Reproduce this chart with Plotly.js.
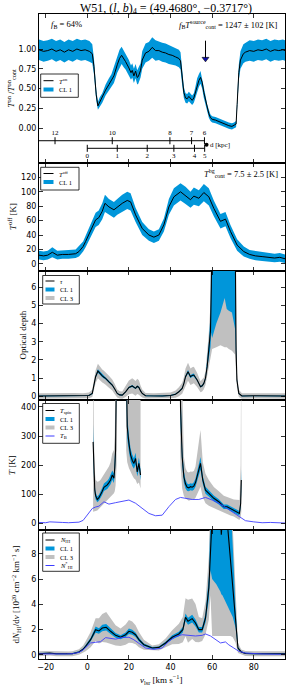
<!DOCTYPE html>
<html><head><meta charset="utf-8">
<script src="https://cdn.plot.ly/plotly-3.0.1.min.js"></script>
<style>html,body{margin:0;padding:0;background:#fff}#chart{width:287px;height:688px}</style>
</head><body><div id="chart"></div>
<script>
// ---------- DATA ----------
// Panel 1: T_on / T_on_cont
const onV = [-23.2,-21,-19,-17,-15,-13,-11,-9,-7,-5,-3,-1,1,2.4,3.2,4.3,5.1,6,7.2,8.8,10.4,11.6,12.8,14.4,15.5,16.5,17.5,18.4,20,21,21.6,22.4,23.2,24,24.5,25.6,26.4,28,29.6,31.2,32.8,34.4,36,37.6,39.2,40.8,42.4,44,44.8,45.6,46.4,47.2,48,48.8,49.6,50.4,51.2,52,52.8,53.6,54.4,55.2,56,56.8,57.6,58.4,59.2,60,61.6,63.2,65,66.4,68,69.5,70.5,71.5,72,72.8,73.6,75,76,78,80,82,84,86,88,90,92,94,95];
const onRatio = [0.99,0.97,0.98,1.00,0.97,0.99,0.96,0.99,0.97,1.00,0.98,0.99,0.97,0.94,0.78,0.42,0.28,0.33,0.38,0.48,0.55,0.6,0.66,0.8,0.88,0.92,0.88,0.84,0.76,0.7,0.73,0.66,0.72,0.64,0.65,0.73,0.86,0.95,0.97,1.02,0.98,0.98,0.96,0.95,0.93,0.92,0.9,0.88,0.85,0.62,0.45,0.38,0.37,0.4,0.37,0.35,0.38,0.46,0.55,0.6,0.64,0.58,0.45,0.35,0.25,0.18,0.13,0.11,0.1,0.08,0.06,0.05,0.03,0.02,0.03,0.05,0.3,0.7,0.86,0.94,0.96,0.98,0.97,0.99,0.98,1.0,0.97,0.99,0.98,0.99,0.98];
const onErr = [0.13,0.13,0.13,0.13,0.13,0.13,0.13,0.13,0.13,0.13,0.13,0.13,0.13,0.12,0.1,0.07,0.05,0.06,0.06,0.07,0.08,0.08,0.09,0.1,0.11,0.11,0.11,0.1,0.1,0.09,0.09,0.09,0.09,0.09,0.09,0.09,0.11,0.12,0.12,0.13,0.13,0.12,0.12,0.12,0.12,0.12,0.11,0.11,0.11,0.08,0.07,0.06,0.06,0.06,0.06,0.06,0.06,0.07,0.08,0.08,0.08,0.08,0.07,0.06,0.05,0.05,0.04,0.04,0.04,0.04,0.04,0.04,0.04,0.04,0.04,0.04,0.06,0.1,0.11,0.12,0.12,0.13,0.13,0.13,0.13,0.13,0.13,0.13,0.13,0.13,0.13];
// kinematic distance scale (kpc) and where it sits in velocity
const distFarKpc = [12,10,8,7,6];
const distFarVel = [-15.5,12,39.7,50.1,56.3];
const distNearKpc = [0,1,2,3,4,5];
const distNearVel = [0,14.4,28.8,41.6,51.5,56.4];
const sourceVel = 56.8;

// Panel 2: T_off
const offV = [-23.2,-21,-19,-16.8,-14.4,-12,-9,-5.6,-4,-2,-0.8,1,2.4,4,5.5,6.4,7.2,8.5,10.4,12.8,14.4,16.8,19.2,20.8,23.2,26.4,29.6,32,34.4,36.8,39.2,41.6,44.8,47.2,49.6,51.2,53.6,56,58.4,60.8,64,66.4,68.8,72,75.2,78,80.8,84,87.1,90,92.5,95];
const tOff = [12,11,12,16,12,13,13,14,17,24,31,42,52,61,64,68,73,84,79,75,79,84,88,86,68,49,40,37,40,54,79,93,100,95,89,94,91,99,93,77,59,62,45,26,17,13,11,10,9,8,9,7];
const tOffErr = [6,6,6,7,6,6,6,6,7,7,8,9,9,10,10,10,11,12,11,11,11,12,12,12,10,9,8,8,8,9,11,12,12,12,11,12,11,12,12,11,10,10,9,8,7,6,6,6,6,6,6,6];

// Panel 3: optical depth
const tauV = [-23.2,-18,-12,-6,-2,0.8,2.4,3.2,4.0,5.1,6,7.2,8,8.8,10.4,12,13.2,14.4,15.6,16.8,18.4,20,21.6,22.4,23.2,24,24.8,25.6,26.4,28,32,36,40,42.4,44,45.6,46.4,47.2,48.4,49.6,50.4,51.2,52.8,54.4,55.2,56,56.8,57.6,58.4,59.2,59.6,60,62,64,66,67,68,69.5,71,71.5,71.9,72.8,74.3,80,88,95];
const tau = [0.02,0.03,0.02,0.03,0.02,0.05,0.16,0.6,1.08,1.39,1.25,1.12,1.05,0.99,0.8,0.62,0.4,0.16,0.08,0.07,0.25,0.49,0.57,0.5,0.44,0.55,0.49,0.3,0.16,0.03,0.02,0.02,0.05,0.12,0.25,0.44,0.7,1.08,1.35,1.08,1.15,1.17,0.9,0.53,0.58,0.71,1.0,1.63,2.6,3.6,6,10,10,10,10,10,10,10,10,2.5,0.9,0.16,0.02,0.03,0.02,0.02];
const tauErr1 = [0.03,0.03,0.03,0.03,0.03,0.03,0.04,0.06,0.07,0.1,0.08,0.07,0.07,0.06,0.06,0.05,0.04,0.03,0.03,0.03,0.03,0.04,0.05,0.05,0.04,0.05,0.05,0.04,0.03,0.03,0.03,0.03,0.03,0.03,0.03,0.04,0.05,0.07,0.1,0.08,0.08,0.08,0.06,0.05,0.05,0.06,0.08,0.15,0.35,0.9,2.5,6.8,6.0,5.4,4.6,5.2,5.3,5.4,6.3,0.5,0.1,0.03,0.03,0.03,0.03,0.03];
const tauErr3 = [0.15,0.15,0.15,0.15,0.15,0.16,0.2,0.3,0.35,0.4,0.38,0.36,0.35,0.35,0.33,0.3,0.28,0.22,0.2,0.2,0.28,0.38,0.42,0.42,0.4,0.42,0.4,0.3,0.22,0.15,0.15,0.15,0.16,0.2,0.25,0.3,0.35,0.45,0.5,0.45,0.45,0.45,0.38,0.3,0.32,0.32,0.38,0.5,0.9,1.5,3.6,7.4,7.3,7.2,7.3,7.3,7.4,7.5,7.7,1.5,0.4,0.2,0.15,0.15,0.15,0.15];

// Panel 4: spin temperature (segments separated by null)
const tsV = [2.8,3.2,3.6,4.0,4.8,5.6,6.4,7.2,8.0,8.8,9.6,10.4,11.2,12.0,12.8,13.2,13.6,14.1,null,
             18.7,19.2,20,20.8,21.6,22.4,23.2,24,24.8,25.6,null,
             44.6,44.8,45.6,46.4,47.2,48,48.8,49.6,50.4,51.2,52,52.8,53.6,54.4,55.5,56.8,58.4,60.8,63.2,65.6,67.2,68.8,70.4,71.9,73.1,73.7,74];
const tSpin = [280,160,115,95,82,88,97,110,124,128,132,140,149,166,155,190,252,600,null,
               600,332,275,235,217,206,223,177,206,166,null,
               600,400,229,160,135,124,122,126,124,128,140,160,185,206,149,114,103,86,74,57,57,51,46,40,34,69,149];
const tSpinErr1 = [60,20,14,12,10,10,11,12,13,13,14,14,15,16,16,20,30,100,null,
                   150,40,28,22,20,18,20,16,20,18,null,
                   150,60,30,20,15,13,12,12,12,13,14,16,18,22,14,12,11,10,9,8,8,8,7,7,8,15,40];
const tSpinLo3 = [40,40,40,42,44,50,57,63,69,75,80,85,91,97,103,110,130,200,null,
                  250,210,190,175,165,155,150,135,140,120,null,
                  250,200,120,95,85,80,78,80,80,82,88,100,115,126,90,69,60,52,45,35,31,27,23,17,11,20,40];
const tSpinHi3 = [700,300,180,150,143,145,150,160,170,175,185,195,210,240,252,300,500,800,null,
                  900,800,700,650,600,600,600,500,600,500,null,
                  800,700,400,230,190,177,175,178,177,180,195,229,280,321,210,170,149,125,110,95,91,86,82,80,80,200,700];
const tbV = [-23.2,-20,-18,-15,-12,-9,-7.2,-4,-2,-0.8,1,2.4,4,5.6,8,10.4,13.6,17.6,20,23.2,26.4,29.6,32.8,36,39.2,42.4,44.8,47.2,50.4,53.6,56.8,60,63.2,66.4,69.5,72.8,76,80,84,88,92,95];
const tB = [3,2,5,3,3,2,2,4,10,22,38,51,56,59,74,66,71,78,80,69,52,34,26,28,57,82,89,86,82,82,89,80,69,55,40,23,9,5,2,3,2,1];

// Panel 5: dN_HI/dv
const nV = [-23.2,-20,-18,-15,-12,-9,-7.2,-4,-2,-0.8,1.6,4,5.6,7.2,9.1,11.2,13.6,16,18.4,20,21.6,23.2,24.8,27.2,31.2,34.4,37.6,40.8,44,45.9,47.2,48.4,50.4,52,53.6,55.2,56.8,58.4,59.2,60,62,64,64.4,65,67,68,68.8,69.9,71.2,72.4,74,76,80,85,90,95];
const nHI = [0.1,0.12,0.15,0.1,0.1,0.08,0.1,0.24,0.45,0.69,1.21,2.0,1.9,2.13,2.19,1.87,1.55,1.4,1.6,1.87,1.8,1.6,1.21,0.81,0.55,0.6,0.95,1.4,1.66,2.0,2.98,2.66,2.87,2.53,2.0,2.0,2.92,5.3,8.7,11,12,11,9.5,11,11,9.0,7.9,5.8,2.98,0.55,0.24,0.12,0.1,0.1,0.08,0.1];
const nErr1 = [0.05,0.05,0.05,0.05,0.05,0.05,0.05,0.06,0.08,0.1,0.15,0.25,0.22,0.25,0.25,0.22,0.18,0.16,0.18,0.22,0.2,0.18,0.15,0.1,0.07,0.07,0.1,0.15,0.18,0.22,0.3,0.28,0.3,0.28,0.22,0.22,0.35,0.9,2.0,5.0,6.4,6.0,4.7,6.3,7.0,5.3,4.5,2.8,0.8,0.1,0.05,0.05,0.05,0.05,0.05,0.05];
const nErr3 = [0.2,0.2,0.2,0.2,0.2,0.2,0.2,0.22,0.3,0.4,0.6,0.9,1.0,1.1,1.2,1.0,0.8,0.7,0.8,0.9,0.85,0.75,0.6,0.4,0.2,0.25,0.35,0.55,0.8,1.0,1.5,1.7,1.6,1.5,1.0,0.9,1.3,2.5,4,9.5,10.5,9.5,8,9.5,9.5,7.5,6.4,4.4,2.0,0.4,0.2,0.2,0.2,0.2,0.2,0.2];
const nsV = [-23.2,-20,-15,-10,-7.2,-4,-2,-0.8,1.6,4,6.4,8.8,11,13.6,16.8,20,22.4,24.8,28,32,36,39.2,42.4,45.6,48.8,52,55.2,56.8,59.2,61.6,64,66.4,68,70.4,72.8,76,80,84,90,95];
const nStar = [0.08,0.07,0.1,0.08,0.1,0.2,0.4,0.6,0.95,1.0,1.05,1.37,1.3,1.25,1.38,1.4,1.2,0.95,0.55,0.44,0.55,1.08,1.45,1.6,1.55,1.5,1.55,1.66,1.5,1.2,0.95,1.03,0.8,0.55,0.29,0.15,0.1,0.08,0.06,0.05];

const xTicks = [-20,0,20,40,60,80];

// ---------- LAYOUT HELPERS ----------
const W=287,H=688,ML=39,MR=2,MT=14,MB=29;
const PW=W-ML-MR, PH=H-MT-MB;
const px=x=>(x-ML)/PW, py=y=>(H-MB-y)/PH;
const BLUE='#0096da', GREY='#c0c0c0', TBC='#3c3cff';
const SERIF='Liberation Serif, Times New Roman, serif';
const SANS='DejaVu Sans, sans-serif';
const XR=[-23.2,95];
const domains=[[py(163),1],[py(271),py(163)],[py(400),py(271)],[py(530),py(400)],[0,py(530)]];
const yRanges=[[-0.443,1.443],[-10,140],[-0.2,6.88],[-23,424],[-0.32,9.88]];
const yTicks=[[0,0.25,0.5,0.75,1],[0,20,40,60,80,100,120],[0,1,2,3,4,5,6],[0,100,200,300,400],[0,2,4,6,8]];
const axN=i=>i===1?'':String(i);

const sub=(a,b)=>a.map((v,i)=>v===null?null:v-b[i]);
const add=(a,b)=>a.map((v,i)=>v===null?null:v+b[i]);

function band(v, lo, hi, color, ax){
  const out=[]; let cur=[];
  const flush=()=>{ if(cur.length){ const xs=cur.map(i=>v[i]), l=cur.map(i=>lo[i]), h=cur.map(i=>hi[i]);
    out.push({x:xs.concat(xs.slice().reverse()), y:l.concat(h.slice().reverse()), type:'scatter', mode:'lines',
      fill:'toself', fillcolor:color, line:{width:0,color:color}, hoverinfo:'skip', showlegend:false,
      xaxis:'x'+axN(ax), yaxis:'y'+axN(ax)}); cur=[]; } };
  v.forEach((val,i)=>{ if(val===null) flush(); else cur.push(i); });
  flush();
  return out;
}
function line(x,y,color,width,ax){
  return {x:x,y:y,type:'scatter',mode:'lines',line:{color:color,width:width},connectgaps:false,
    hoverinfo:'skip',showlegend:false,xaxis:'x'+axN(ax),yaxis:'y'+axN(ax)};
}

let traces=[];
// panel 1
traces=traces.concat(band(onV, sub(onRatio,onErr), add(onRatio,onErr), BLUE, 1));
traces.push(line(onV,onRatio,'#000',1,1));
// distance scales
const yFar=-0.161, yNear=-0.257;
traces.push(line([XR[0],distFarVel[distFarVel.length-1]],[yFar,yFar],'#000',1,1));
traces.push(line([distNearVel[0],distNearVel[distNearVel.length-1]],[yNear,yNear],'#000',1,1));
traces.push({x:distFarVel,y:distFarVel.map(()=>yFar),type:'scatter',mode:'markers+text',text:distFarKpc.map(String),
  textposition:'top center',textfont:{family:SERIF,size:7,color:'#000'},
  marker:{symbol:'line-ns',size:5,line:{color:'#000',width:1}},hoverinfo:'skip',showlegend:false,xaxis:'x',yaxis:'y',cliponaxis:false});
traces.push({x:distNearVel,y:distNearVel.map(()=>yNear),type:'scatter',mode:'markers+text',text:distNearKpc.map(String),
  textposition:'bottom center',textfont:{family:SERIF,size:7,color:'#000'},
  marker:{symbol:'line-ns',size:5,line:{color:'#000',width:1}},hoverinfo:'skip',showlegend:false,xaxis:'x',yaxis:'y',cliponaxis:false});
traces.push({x:[57.3],y:[-0.212],type:'scatter',mode:'markers+text',text:['d [kpc]'],textposition:'middle right',
  textfont:{family:SERIF,size:7,color:'#000'},marker:{symbol:'circle',size:4,color:'#000'},
  hoverinfo:'skip',showlegend:false,xaxis:'x',yaxis:'y',cliponaxis:false});
traces.push({x:[sourceVel],y:[0.875],type:'scatter',mode:'markers',marker:{symbol:'triangle-down',size:6,color:'#1010b0',line:{color:'#000',width:0.6}},
  hoverinfo:'skip',showlegend:false,xaxis:'x',yaxis:'y'});

// panel 2
traces=traces.concat(band(offV, sub(tOff,tOffErr), add(tOff,tOffErr), BLUE, 2));
traces.push(line(offV,tOff,'#000',1,2));

// panel 3
traces=traces.concat(band(tauV, sub(tau,tauErr3), add(tau,tauErr3), GREY, 3));
traces=traces.concat(band(tauV, sub(tau,tauErr1), add(tau,tauErr1), BLUE, 3));
traces.push(line(tauV,tau,'#000',1.1,3));

// panel 4
traces=traces.concat(band(tsV, tSpinLo3, tSpinHi3, GREY, 4));
traces=traces.concat(band(tsV, sub(tSpin,tSpinErr1), add(tSpin,tSpinErr1), BLUE, 4));
traces.push(line(tsV,tSpin,'#000',1.1,4));
traces.push(line(tbV,tB,TBC,0.9,4));

// panel 5
traces=traces.concat(band(nV, sub(nHI,nErr3), add(nHI,nErr3), GREY, 5));
traces=traces.concat(band(nV, sub(nHI,nErr1), add(nHI,nErr1), BLUE, 5));
traces.push(line(nV,nHI,'#000',1.1,5));
traces.push(line(nsV,nStar,TBC,0.9,5));

// ---------- LAYOUT ----------
const layout={
  width:W,height:H,margin:{l:ML,r:MR,t:MT,b:MB,pad:0},
  paper_bgcolor:'#fff',plot_bgcolor:'#fff',showlegend:false,
  title:{text:'W51, (<i>l</i>, <i>b</i>)<sub>4</sub> = (49.4680°, −0.3717°)',font:{family:SERIF,size:12,color:'#000'},
    xref:'container',yref:'container',x:166/W,xanchor:'center',y:1-7.5/H,yanchor:'middle'},
  shapes:[],annotations:[]
};
for(let i=1;i<=5;i++){
  const n=axN(i);
  layout['xaxis'+n]={domain:[0,1],range:XR,anchor:'y'+n,showline:true,mirror:'ticks',linecolor:'#000',linewidth:1,
    ticks:'inside',ticklen:4,tickwidth:0.8,tickcolor:'#000',tickvals:xTicks,showticklabels:i===5,
    tickfont:{family:SANS,size:8,color:'#000'},showgrid:false,zeroline:false,fixedrange:true};
  layout['yaxis'+n]={domain:domains[i-1],range:yRanges[i-1],anchor:'x'+n,showline:true,mirror:'ticks',linecolor:'#000',linewidth:1,
    ticks:'inside',ticklen:4,tickwidth:0.8,tickcolor:'#000',tickvals:yTicks[i-1],tickformat:i===1?'.2f':'d',
    tickfont:{family:SANS,size:8,color:'#000'},showgrid:false,zeroline:false,fixedrange:true};
}
// arrow shaft marking the source
layout.shapes.push({type:'line',xref:'x',yref:'y',x0:sourceVel,x1:sourceVel,y0:0.89,y1:1.105,line:{color:'#000',width:1}});

function ann(text,x,y,opts){
  layout.annotations.push(Object.assign({text:text,x:px(x),y:py(y),xref:'paper',yref:'paper',showarrow:false,
    font:{family:SERIF,size:8.5,color:'#000'},xanchor:'left',yanchor:'middle'},opts||{}));
}
ann('<i>f</i><sub>B</sub> = 64%',49,24.5);
ann('<i>f</i><sub>B</sub><i>T</i><sup>source</sup><sub>cont</sub> = 1247 ± 102 [K]',280,24.5,{xanchor:'right'});
ann('<i>T</i><sup>bg</sup><sub>cont</sub> = 7.5 ± 2.5 [K]',280,173.5,{xanchor:'right'});
// y titles
const yt=(text,x,y)=>ann(text,x,y,{xanchor:'center',textangle:-90,font:{family:SERIF,size:9,color:'#000'}});
yt('<i>T</i><sup>on</sup> /<i>T</i><sup>on</sup><sub>cont</sub>',11,88.5);
yt('<i>T</i><sup>off</sup> [K]',12,217);
yt('Optical depth',22,335.5);
yt('<i>T</i> [K]',12,465);
yt('d<i>N</i><sub>HI</sub>/d<i>v</i> [10<sup>20</sup> cm<sup>−2</sup> km<sup>−1</sup> s]',16,594.5);
ann('<i>v</i><sub>lsr</sub> [km s<sup>−1</sup>]',161,679,{xanchor:'center',font:{family:SERIF,size:9,color:'#000'}});

// legends drawn by hand
function legend(box, rows, lx0, lx1, tx){
  layout.shapes.push({type:'rect',xref:'paper',yref:'paper',x0:px(box[0]),x1:px(box[2]),y0:py(box[1]),y1:py(box[3]),
    line:{color:'#000',width:0.8},fillcolor:'#fff',layer:'above'});
  rows.forEach(r=>{
    layout.shapes.push({type:'line',xref:'paper',yref:'paper',x0:px(lx0),x1:px(lx1),y0:py(r[0]),y1:py(r[0]),
      line:{color:r[1],width:r[2]},layer:'above'});
    ann(r[3],tx,r[0],{font:{family:SERIF,size:6.5,color:'#000'}});
  });
}
legend([40.7,74,78.3,97.3],[[80.7,'#000',1,'<i>T</i><sup>on</sup>'],[89.5,BLUE,4,'CL 1']],43.5,53.5,56.5);
legend([40.7,167.3,79,190],[[173.5,'#000',1,'<i>T</i><sup>off</sup>'],[182,BLUE,4,'CL 1']],43.5,53.5,56.5);
legend([42.7,275.5,79.3,304],[[281,'#000',1,'<i>τ</i>'],[289.5,BLUE,4,'CL 1'],[298,GREY,4,'CL 3']],45.5,54.5,58);
legend([42.7,403.5,79.3,443.3],[[410.5,'#000',1,'<i>T</i><sub>spin</sub>'],[419,BLUE,4,'CL 1'],[427.5,GREY,4,'CL 3'],[436,TBC,1,'<i>T</i><sub>B</sub>']],45.5,54.5,58);
legend([42.7,533,79.3,571.3],[[540,'#000',1,'<i>N</i><sub>HI</sub>'],[548.5,BLUE,4,'CL 1'],[557,GREY,4,'CL 3'],[565.5,TBC,1,'<i>N</i><sup>*</sup><sub>HI</sub>']],45.5,54.5,58);

Plotly.newPlot('chart',traces,layout,{staticPlot:true,displayModeBar:false});
</script></body></html>
